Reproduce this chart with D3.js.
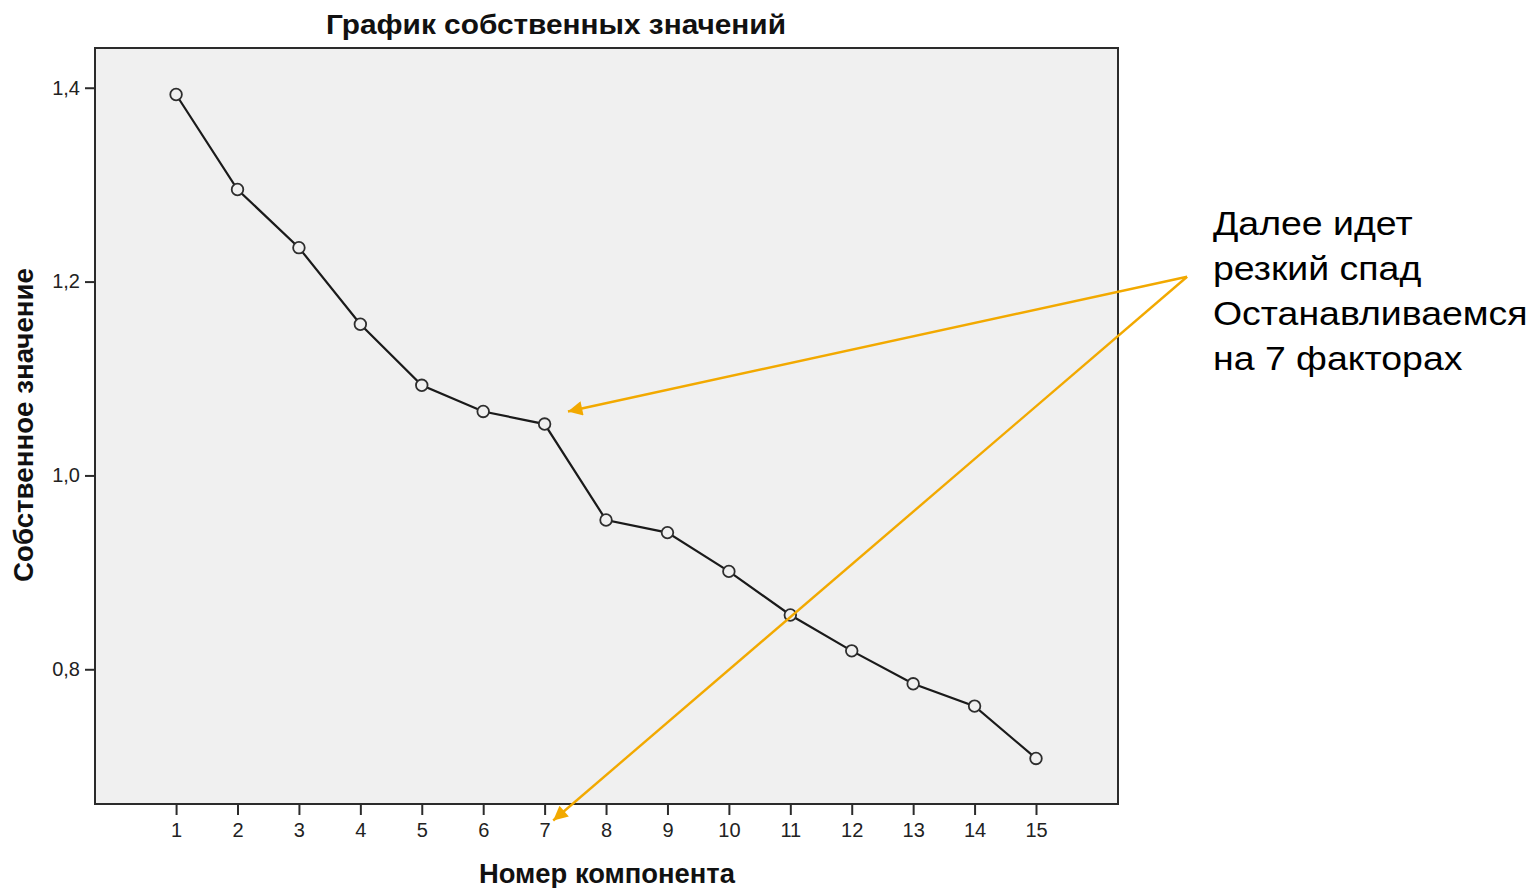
<!DOCTYPE html>
<html>
<head>
<meta charset="utf-8">
<script src="https://cdn.jsdelivr.net/npm/d3@7"></script>
<style>
  body { margin: 0; background: #fff; }
  svg { display: block; }
</style>
</head>
<body>
<svg class="grafico" width="1536" height="888"></svg>
<script>
// datos del gráfico de sedimentación
const componentes = [1, 2, 3, 4, 5, 6, 7, 8, 9, 10, 11, 12, 13, 14, 15]
const autovalores = [1.393, 1.295, 1.235, 1.156, 1.093, 1.066, 1.053, 0.954, 0.941, 0.901, 0.856, 0.819, 0.785, 0.762, 0.708]
const yTicks = [0.8, 1.0, 1.2, 1.4]
const titulo = 'График собственных значений'
const tituloX = 'Номер компонента'
const tituloY = 'Собственное значение'
const nota = ['Далее идет', 'резкий спад', 'Останавливаемся', 'на 7 факторах']
const notaDesde = [17.46, 1.205] // origen de las flechas (en unidades de datos)
const notaHacia = [[7.38, 1.066], [7.14, 0.644]]

const svg = d3.select('.grafico')
const naranja = '#f2a900'
const fuente = 'Liberation Sans, Arial, sans-serif'

// area del grafico
const x = d3.scaleLinear().domain([-0.32, 16.335]).range([95, 1118])
const y = d3.scaleLinear().domain([0.661, 1.441]).range([804, 48])

svg.append('rect')
  .attr('x', x.range()[0]).attr('y', y.range()[1])
  .attr('width', x.range()[1] - x.range()[0])
  .attr('height', y.range()[0] - y.range()[1])
  .attr('fill', '#f0f0f0')
  .attr('stroke', '#2b2b2b')
  .attr('stroke-width', 2)

// ejes
const fmt = d => d3.format('.1f')(d).replace('.', ',')
const ejeY = svg.append('g')
  .attr('transform', `translate(${x.range()[0]},0)`)
  .call(d3.axisLeft(y).tickValues(yTicks).tickFormat(fmt).tickSize(10).tickPadding(5))
const ejeX = svg.append('g')
  .attr('transform', `translate(0,${y.range()[0]})`)
  .call(d3.axisBottom(x).tickValues(componentes).tickFormat(d3.format('d')).tickSize(11).tickPadding(8))

;[ejeY, ejeX].forEach(g => {
  g.attr('font-family', fuente).attr('font-size', 20)
  g.select('.domain').remove()
  g.selectAll('line').attr('stroke', '#2b2b2b').attr('stroke-width', 2)
  g.selectAll('text').attr('fill', '#222')
})

// linea y puntos
const linea = d3.line().x((d, i) => x(componentes[i])).y(d => y(d))
svg.append('path')
  .datum(autovalores)
  .attr('d', linea)
  .attr('fill', 'none')
  .attr('stroke', '#1a1a1a')
  .attr('stroke-width', 2.2)

svg.selectAll('circle.punto')
  .data(autovalores)
  .join('circle')
  .attr('class', 'punto')
  .attr('cx', (d, i) => x(componentes[i]))
  .attr('cy', d => y(d))
  .attr('r', 5.8)
  .attr('fill', '#f0f0f0')
  .attr('stroke', '#2e2e2e')
  .attr('stroke-width', 1.8)

// titulos
svg.append('text')
  .attr('x', 556).attr('y', 34)
  .attr('text-anchor', 'middle')
  .attr('textLength', 460).attr('lengthAdjust', 'spacingAndGlyphs')
  .style('font-family', fuente).style('font-weight', 'bold').style('font-size', '27px')
  .attr('fill', '#111')
  .text(titulo)

svg.append('text')
  .attr('x', 607).attr('y', 883)
  .attr('text-anchor', 'middle')
  .attr('textLength', 256).attr('lengthAdjust', 'spacingAndGlyphs')
  .style('font-family', fuente).style('font-weight', 'bold').style('font-size', '27px')
  .attr('fill', '#111')
  .text(tituloX)

svg.append('text')
  .attr('transform', 'translate(33,425) rotate(-90)')
  .attr('text-anchor', 'middle')
  .attr('textLength', 314).attr('lengthAdjust', 'spacingAndGlyphs')
  .style('font-family', fuente).style('font-weight', 'bold').style('font-size', '27px')
  .attr('fill', '#111')
  .text(tituloY)

// flechas naranjas
svg.append('defs').append('marker')
  .attr('id', 'punta')
  .attr('viewBox', '0 0 10 10')
  .attr('refX', 10).attr('refY', 5)
  .attr('markerWidth', 7.5).attr('markerHeight', 6)
  .attr('markerUnits', 'strokeWidth')
  .attr('orient', 'auto')
  .append('path')
  .attr('d', 'M0,0 L10,5 L0,10 Z')
  .attr('fill', naranja)

svg.selectAll('line.flecha')
  .data(notaHacia)
  .join('line')
  .attr('class', 'flecha')
  .attr('x1', x(notaDesde[0])).attr('y1', y(notaDesde[1]))
  .attr('x2', d => x(d[0])).attr('y2', d => y(d[1]))
  .attr('stroke', naranja)
  .attr('stroke-width', 2.4)
  .attr('marker-end', 'url(#punta)')

// texto de la nota (algo estirado en horizontal, como en la imagen)
svg.append('g')
  .attr('transform', 'translate(1213,235) scale(1.135,1)')
  .append('text')
  .style('font-family', fuente).style('font-size', '33px')
  .attr('fill', '#000')
  .selectAll('tspan')
  .data(nota)
  .join('tspan')
  .attr('x', 0)
  .attr('dy', (d, i) => i ? 45 : 0)
  .text(d => d)
</script>
</body>
</html>
